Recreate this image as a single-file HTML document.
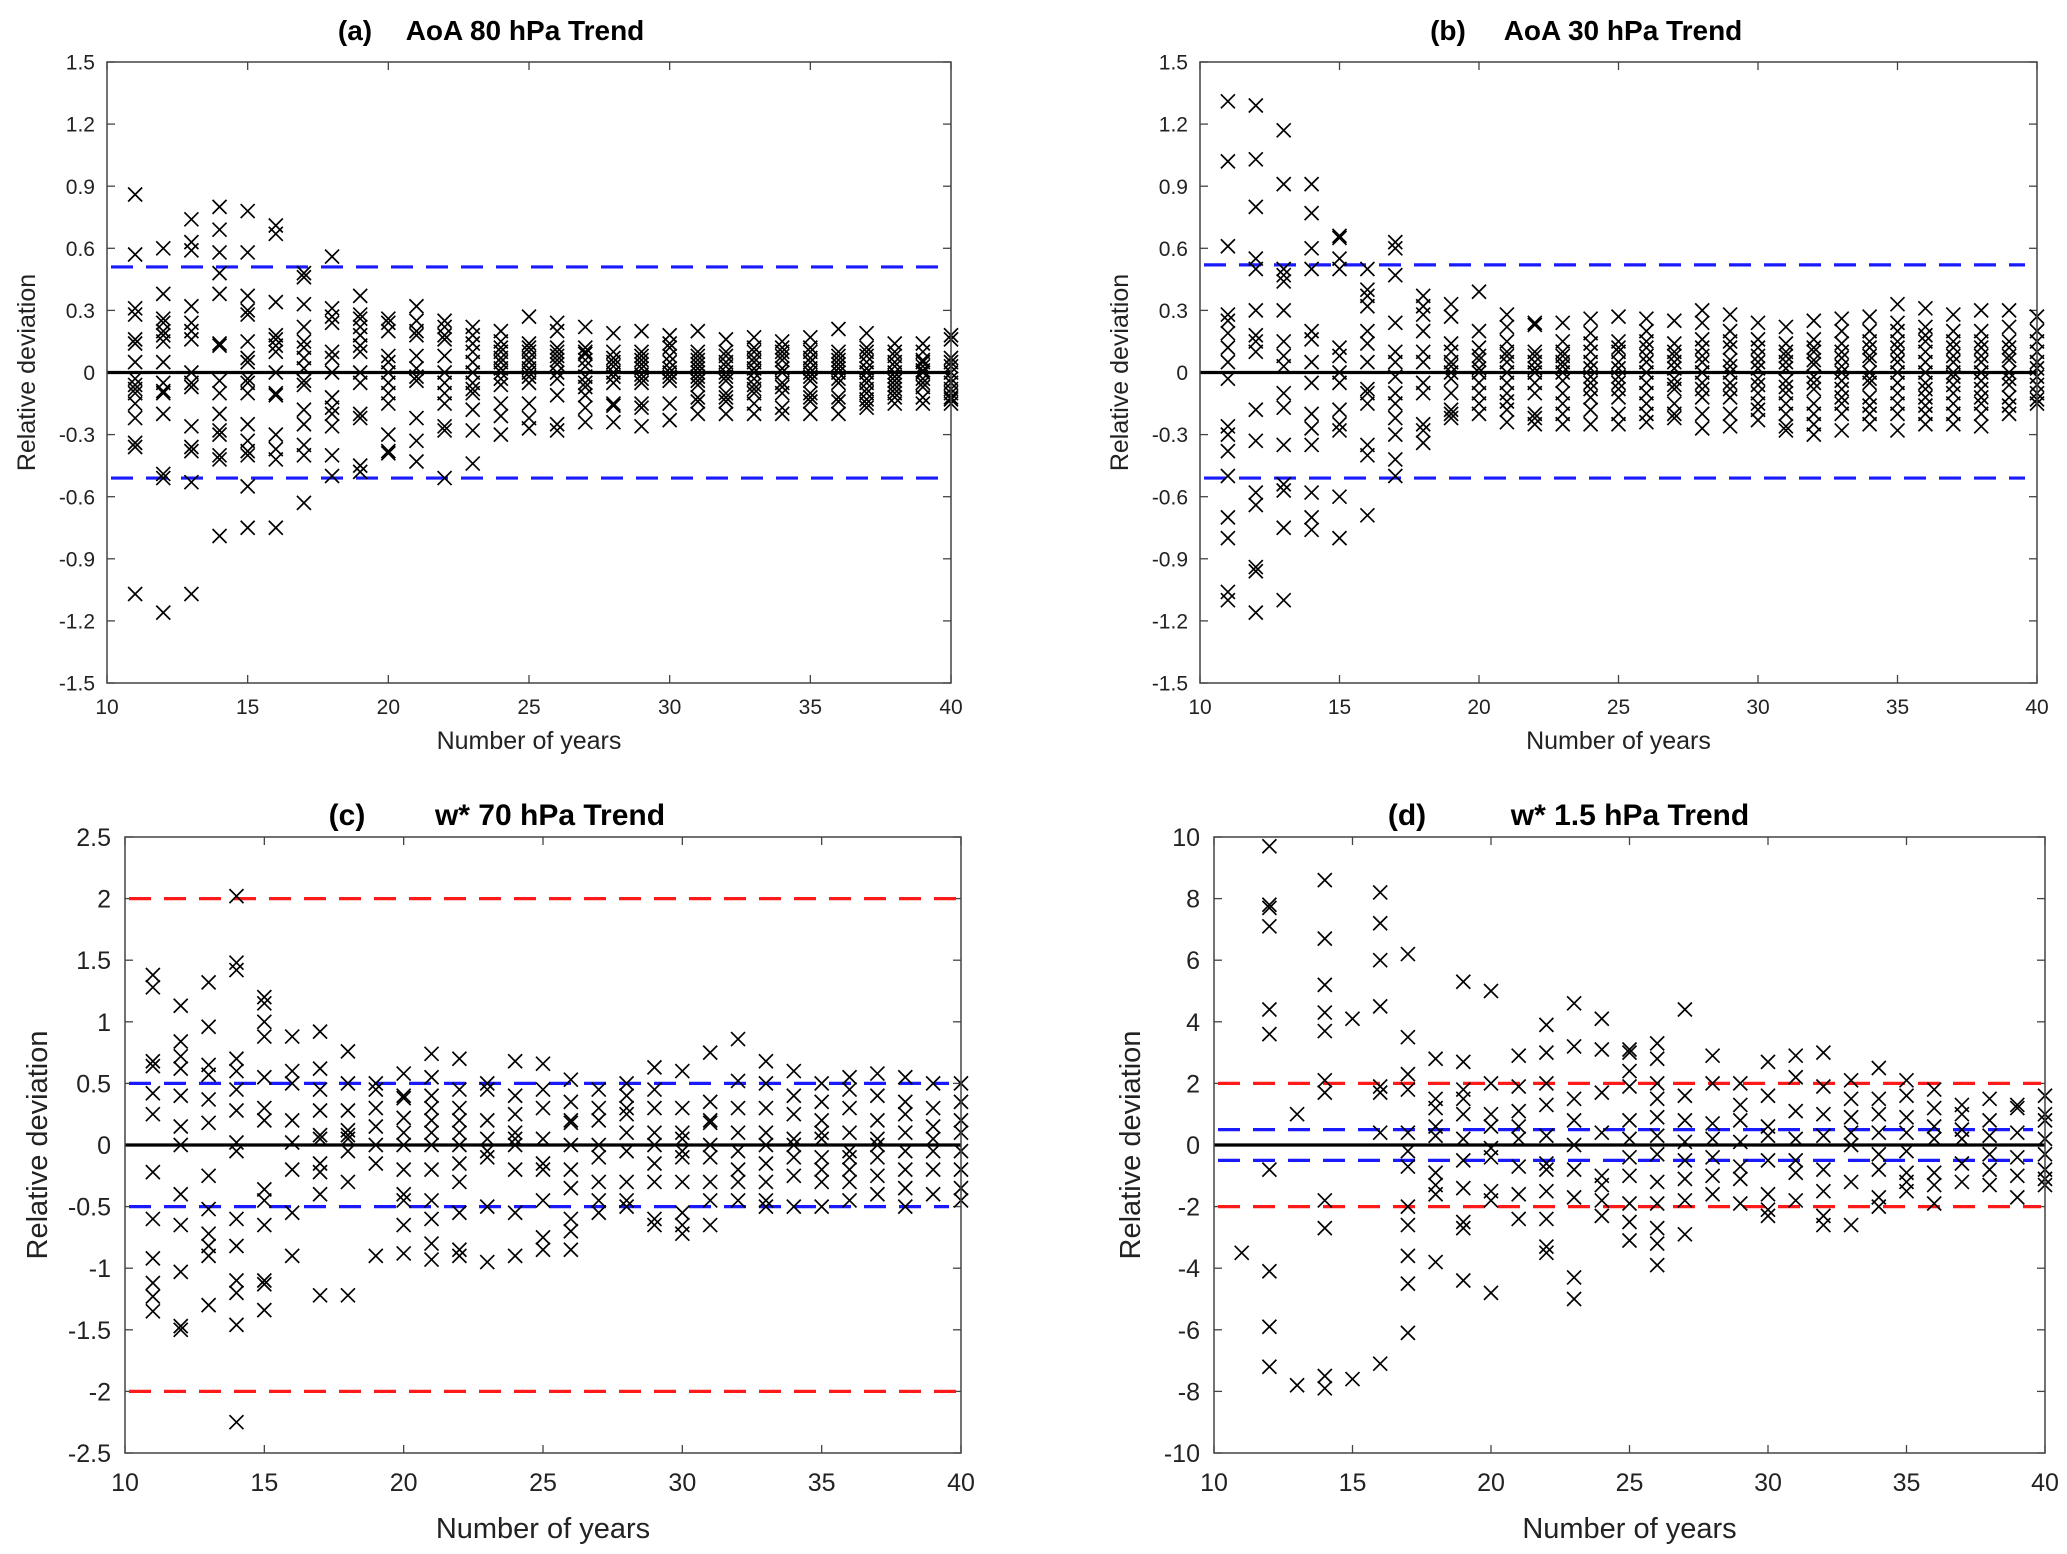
<!DOCTYPE html>
<html><head><meta charset="utf-8">
<style>
html,body{margin:0;padding:0;background:#fff;}
svg{display:block;font-family:"Liberation Sans",sans-serif;}
</style></head>
<body>
<svg id="fig" width="2067" height="1554" viewBox="0 0 2067 1554" xmlns="http://www.w3.org/2000/svg"></svg>
<script>
const years = [11,12,13,14,15,16,17,18,19,20,21,22,23,24,25,26,27,28,29,30,31,32,33,34,35,36,37,38,39,40];
const xTicks = [10,15,20,25,30,35,40];
const yTicksAB = [1.5,1.2,0.9,0.6,0.3,0,-0.3,-0.6,-0.9,-1.2,-1.5];
const yTickLabelsAB = ["1.5","1.2","0.9","0.6","0.3","0","-0.3","-0.6","-0.9","-1.2","-1.5"];
const yTicksC = [2.5,2,1.5,1,0.5,0,-0.5,-1,-1.5,-2,-2.5];
const yTickLabelsC = ["2.5","2","1.5","1","0.5","0","-0.5","-1","-1.5","-2","-2.5"];
const yTicksD = [10,8,6,4,2,0,-2,-4,-6,-8,-10];
const yTickLabelsD = ["10","8","6","4","2","0","-2","-4","-6","-8","-10"];
const blueA = [0.51,-0.51];
const blueB = [0.52,-0.51];
const blueC = [0.5,-0.5];
const redC = [2,-2];
const blueD = [0.5,-0.5];
const redD = [2,-2];

const dataA = [
[.86,.57,.31,.28,.16,.14,.05,-.03,-.06,-.08,-.1,-.15,-.22,-.34,-.36,-1.07],
[.6,.38,.26,.24,.2,.18,.15,.05,-.05,-.09,-.1,-.2,-.49,-.51,-1.16],
[.74,.63,.59,.32,.24,.2,.16,0,-.05,-.07,-.26,-.36,-.38,-.53,-1.07],
[.8,.69,.58,.48,.38,.14,.13,-.04,-.1,-.2,-.28,-.3,-.4,-.42,-.79],
[.78,.58,.37,.3,.28,.15,.07,.05,-.03,-.05,-.1,-.25,-.33,-.38,-.4,-.55,-.75],
[.71,.67,.34,.18,.16,.13,.1,0,-.1,-.11,-.3,-.37,-.42,-.75],
[.48,.46,.33,.22,.15,.12,.07,.02,-.04,-.06,-.18,-.25,-.35,-.4,-.63],
[.56,.31,.27,.24,.1,.07,0,-.12,-.17,-.2,-.26,-.4,-.5],
[.37,.28,.26,.22,.18,.13,.1,0,-.05,-.2,-.22,-.45,-.48],
[.26,.24,.2,.08,.05,0,-.05,-.1,-.15,-.3,-.38,-.39],
[.32,.25,.2,.18,.08,.02,-.02,-.04,-.22,-.33,-.43],
[.25,.22,.18,.16,.08,0,-.05,-.1,-.15,-.26,-.28,-.51],
[.22,.18,.14,.1,.05,0,-.05,-.08,-.1,-.18,-.28,-.44],
[.2,.15,.12,.1,.07,.05,.02,0,-.03,-.06,-.15,-.21,-.3],
[.27,.14,.12,.1,.07,.05,.02,0,-.02,-.05,-.15,-.22,-.27],
[.24,.2,.12,.1,.08,.06,.04,0,-.03,-.11,-.25,-.28],
[.22,.12,.1,.09,.06,.03,-.02,-.05,-.07,-.11,-.17,-.24],
[.19,.1,.07,.05,.03,0,-.02,-.05,-.15,-.16,-.24],
[.2,.1,.08,.06,.04,.02,-.01,-.03,-.05,-.15,-.17,-.26],
[.18,.14,.12,.08,.05,.02,0,-.02,-.04,-.15,-.23],
[.2,.1,.08,.06,.04,.02,0,-.02,-.04,-.06,-.12,-.14,-.2],
[.16,.1,.08,.05,.03,0,-.02,-.04,-.1,-.12,-.14,-.2],
[.17,.12,.1,.07,.05,.02,0,-.03,-.06,-.08,-.1,-.15,-.2],
[.15,.12,.1,.08,.06,.02,0,-.05,-.07,-.1,-.17,-.2],
[.17,.12,.1,.07,.05,.02,0,-.02,-.04,-.1,-.12,-.14,-.2],
[.21,.1,.08,.06,.04,.02,0,-.03,-.05,-.12,-.14,-.2],
[.19,.12,.1,.08,.05,.02,0,-.03,-.05,-.08,-.1,-.13,-.15,-.17],
[.14,.1,.08,.05,.03,0,-.02,-.04,-.06,-.08,-.1,-.12,-.15],
[.14,.1,.06,.05,.03,.01,0,-.03,-.05,-.07,-.12,-.15],
[.18,.16,.07,.05,.03,0,-.03,-.05,-.08,-.1,-.12,-.13,-.15]];

const dataB = [
[1.31,1.02,.61,.28,.25,.19,.12,.05,-.03,-.26,-.3,-.38,-.5,-.7,-.8,-1.06,-1.1],
[1.29,1.03,.8,.55,.5,.3,.18,.15,.1,-.18,-.33,-.58,-.64,-.94,-.96,-1.16],
[1.17,.91,.5,.47,.44,.3,.15,.08,.03,-.1,-.17,-.35,-.54,-.57,-.75,-1.1],
[.91,.77,.6,.5,.2,.16,.05,-.05,-.2,-.27,-.35,-.58,-.7,-.76],
[.66,.65,.55,.5,.12,.08,0,-.05,-.18,-.25,-.28,-.6,-.8],
[.5,.4,.37,.32,.2,.14,.05,-.08,-.1,-.15,-.35,-.4,-.69],
[.63,.6,.47,.24,.1,.05,-.02,-.1,-.15,-.22,-.3,-.42,-.5],
[.37,.32,.28,.2,.1,.05,-.05,-.1,-.25,-.28,-.34],
[.33,.27,.14,.1,.05,.03,0,-.03,-.1,-.18,-.2,-.22],
[.39,.2,.12,.08,.06,.02,0,-.05,-.1,-.15,-.2],
[.28,.22,.15,.1,.08,.05,0,-.05,-.1,-.14,-.18,-.24],
[.24,.23,.1,.08,.05,.02,0,-.05,-.1,-.2,-.22,-.25],
[.24,.15,.1,.08,.05,.03,0,-.04,-.1,-.15,-.2,-.25],
[.26,.19,.14,.1,.05,.02,-.02,-.05,-.08,-.12,-.18,-.25],
[.27,.15,.12,.1,.05,.02,-.02,-.05,-.08,-.12,-.2,-.25],
[.26,.2,.15,.12,.08,.05,0,-.05,-.1,-.15,-.2,-.24],
[.25,.14,.1,.08,.05,.02,-.03,-.06,-.08,-.15,-.2,-.22],
[.3,.24,.16,.12,.08,.05,0,-.05,-.08,-.12,-.2,-.27],
[.28,.2,.15,.12,.06,.03,0,-.05,-.08,-.12,-.2,-.26],
[.24,.16,.12,.08,.05,.02,-.03,-.06,-.1,-.15,-.18,-.23],
[.22,.14,.1,.08,.05,.02,-.04,-.07,-.1,-.15,-.2,-.26,-.28],
[.25,.16,.12,.1,.06,.04,-.02,-.05,-.08,-.15,-.2,-.25,-.3],
[.26,.2,.14,.1,.07,.03,0,-.04,-.08,-.12,-.15,-.2,-.28],
[.27,.2,.15,.12,.08,.06,0,-.03,-.05,-.12,-.16,-.2,-.25],
[.33,.24,.2,.15,.12,.08,.05,0,-.05,-.1,-.15,-.2,-.28],
[.31,.22,.18,.15,.1,.05,0,-.05,-.08,-.12,-.16,-.2,-.25],
[.28,.2,.15,.12,.08,.05,0,-.02,-.06,-.1,-.15,-.2,-.25],
[.3,.2,.15,.12,.08,.05,0,-.04,-.08,-.12,-.15,-.2,-.26],
[.3,.22,.15,.12,.08,.06,0,-.03,-.06,-.12,-.16,-.2],
[.27,.2,.15,.1,.05,.02,-.02,-.06,-.1,-.13,-.15]];

const dataC = [
[1.38,1.28,.68,.64,.42,.25,-.22,-.6,-.92,-1.12,-1.23,-1.35],
[1.13,.84,.72,.62,.4,.15,0,-.4,-.65,-1.03,-1.47,-1.5],
[1.32,.96,.65,.57,.37,.18,-.25,-.52,-.72,-.82,-.9,-1.3],
[2.02,1.48,1.42,.7,.6,.45,.28,.02,-.05,-.6,-.82,-1.1,-1.2,-1.46,-2.25],
[1.2,1.15,1.0,.88,.55,.3,.2,-.36,-.45,-.65,-1.1,-1.13,-1.34],
[.88,.6,.5,.2,.02,-.2,-.55,-.9],
[.92,.62,.45,.28,.08,.05,-.15,-.22,-.4,-1.22],
[.76,.5,.28,.12,.08,.05,-.05,-.3,-1.22],
[.5,.45,.3,.15,0,-.15,-.9],
[.58,.4,.38,.22,.1,0,-.2,-.4,-.45,-.65,-.88],
[.74,.55,.4,.3,.2,.1,0,-.2,-.45,-.6,-.8,-.93],
[.7,.45,.3,.2,.1,0,-.15,-.3,-.55,-.85,-.9],
[.5,.45,.2,.05,-.05,-.1,-.5,-.95],
[.68,.4,.25,.1,.05,0,-.2,-.55,-.9],
[.66,.45,.3,.05,-.15,-.2,-.45,-.75,-.85],
[.53,.35,.2,.18,0,-.2,-.35,-.6,-.7,-.85],
[.45,.3,.2,0,-.1,-.3,-.45,-.55],
[.5,.4,.3,.25,.1,-.05,-.3,-.45,-.5],
[.63,.45,.3,.1,0,-.15,-.3,-.6,-.65],
[.6,.3,.1,.05,-.05,-.1,-.3,-.55,-.65,-.72],
[.75,.35,.2,.18,0,-.1,-.3,-.45,-.65],
[.86,.52,.3,.1,-.05,-.2,-.3,-.45],
[.68,.5,.3,.1,0,-.15,-.3,-.45,-.5],
[.6,.4,.25,.05,0,-.1,-.25,-.5],
[.5,.35,.2,.1,.05,-.1,-.2,-.3,-.5],
[.55,.45,.3,.1,-.05,-.1,-.2,-.3,-.45],
[.58,.4,.2,.05,0,-.1,-.25,-.4],
[.55,.35,.25,.1,-.05,-.2,-.35,-.5],
[.5,.3,.15,.05,-.05,-.2,-.4],
[.5,.35,.2,.1,-.05,-.2,-.35,-.45]];

const dataD = [
[-3.5],
[9.7,7.8,7.7,7.1,4.4,3.6,-.8,-4.1,-5.9,-7.2],
[1.0,-7.8],
[8.6,6.7,5.2,4.3,3.7,2.1,1.7,-1.8,-2.7,-7.5,-7.9],
[4.1,-7.6],
[8.2,7.2,6.0,4.5,1.9,1.7,.4,-7.1],
[6.2,3.5,2.3,1.8,.4,-.2,-.7,-2.0,-2.6,-3.6,-4.5,-6.1],
[2.8,1.5,1.2,.6,.3,-.9,-1.3,-1.6,-3.8],
[5.3,2.7,1.8,1.5,1.0,.2,-.5,-1.4,-2.5,-2.7,-4.4],
[5.0,2.0,1.0,.6,-.1,-.4,-1.5,-1.8,-4.8],
[2.9,1.9,1.1,.6,.2,-.7,-1.6,-2.4],
[3.9,3.0,2.0,1.3,.3,-.6,-.8,-1.5,-2.4,-3.3,-3.5],
[4.6,3.2,1.5,.8,0,-.8,-1.7,-4.3,-5.0],
[4.1,3.1,1.7,.4,-1.0,-1.3,-1.8,-2.3],
[3.1,3.0,2.4,1.9,.8,.2,-.4,-1.0,-1.9,-2.5,-3.1],
[3.3,2.8,2.0,1.5,.9,.3,-.3,-1.2,-1.9,-2.7,-3.2,-3.9],
[4.4,1.6,.8,.1,-.5,-1.1,-1.8,-2.9],
[2.9,2.0,.7,.2,-.4,-1.0,-1.6],
[2.0,1.3,.8,.1,-.7,-1.1,-1.9],
[2.7,1.6,.6,.3,-.5,-1.6,-2.1,-2.3],
[2.9,2.2,1.1,.2,-.5,-.9,-1.8],
[3.0,1.9,1.0,.3,-.8,-1.5,-2.3,-2.6],
[2.1,1.5,.9,.4,0,-1.2,-2.6],
[2.5,1.5,1.0,.4,-.3,-.8,-1.7,-2.0],
[2.1,1.6,.9,.4,-.2,-.9,-1.2,-1.5],
[1.8,1.2,.6,.2,-.9,-1.3,-1.9],
[1.3,1.0,.5,.2,-.6,-1.2],
[1.5,.8,.3,-.3,-.8,-1.3],
[1.3,1.2,.4,-.4,-1.0,-1.7],
[1.6,1.0,.8,.2,-.3,-.8,-1.1,-1.3]];

const NS = "http://www.w3.org/2000/svg";
const svg = document.getElementById('fig');
function mk(tag, attrs, parent){
  const e = document.createElementNS(NS, tag);
  for (const k in attrs) e.setAttribute(k, attrs[k]);
  (parent||svg).appendChild(e);
  return e;
}

function panel(cfg){
  const g = mk('g', {});
  
  
  const L=cfg.L,R=cfg.R,T=cfg.T,B=cfg.B;
  const xs = v => L + (v-10)/30*(R-L);
  const ys = v => T + (cfg.ymax - v)/(cfg.ymax-cfg.ymin)*(B-T);
  xTicks.forEach(t=>{
    const x = xs(t);
    const tk = mk('line',{x1:x,x2:x,y1:B,y2:B-8,stroke:'#444','stroke-width':1.3},g);
    
    
    mk('line',{x1:x,x2:x,y1:T,y2:T+8,stroke:'#444','stroke-width':1.3},g);
    const tl = mk('text',{x:x,y:B+cfg.xtOff,'font-size':cfg.tf,'text-anchor':'middle',fill:'#222'},g);
    tl.textContent = t;
    
    
  });
  cfg.yt.forEach((t,i)=>{
    const y = ys(t);
    const tk = mk('line',{x1:L,x2:L+8,y1:y,y2:y,stroke:'#444','stroke-width':1.3},g);
    
    
    mk('line',{x1:R,x2:R-8,y1:y,y2:y,stroke:'#444','stroke-width':1.3},g);
    const tl = mk('text',{x:L-cfg.ytGap,y:y+cfg.tf*0.36,'font-size':cfg.tf,'text-anchor':'end',fill:'#222'},g);
    tl.textContent = cfg.ytl[i];
    
    
  });
  (cfg.red||[]).forEach(v=>{
    const l = mk('line',{x1:L+4,x2:R-4,y1:ys(v),y2:ys(v),stroke:'#ff1a1a','stroke-width':3.2,'stroke-dasharray':'22,13'},g);
    
    
  });
  cfg.blue.forEach(v=>{
    const l = mk('line',{x1:L+4,x2:R-12,y1:ys(v),y2:ys(v),stroke:'#1a1aff','stroke-width':3.2,'stroke-dasharray':'22,13'},g);
    
    
  });
  const z = mk('line',{x1:L,x2:R,y1:ys(0),y2:ys(0),stroke:'#000','stroke-width':3.2},g);
  
  
  const h = cfg.ms;
  years.forEach((yr,i)=>{
    cfg.data[i].forEach(v=>{
      const cx = xs(yr), cy = ys(v);
      const p = mk('path',{d:`M${cx-h},${cy-h}L${cx+h},${cy+h}M${cx-h},${cy+h}L${cx+h},${cy-h}`,stroke:'#000','stroke-width':1.7,fill:'none'},g);
      
      
    });
  });
  const fr = mk('rect',{x:L,y:T,width:R-L,height:B-T,fill:'none',stroke:'#444','stroke-width':1.5},g);
  
  
  const t1 = mk('text',{x:cfg.tlx,y:cfg.ty,'font-size':cfg.ttf,'font-weight':'bold','text-anchor':'middle'},g);
  t1.textContent = cfg.tag;
  
  
  const t2 = mk('text',{x:cfg.ttx,y:cfg.ty,'font-size':cfg.ttf,'font-weight':'bold','text-anchor':'middle'},g);
  t2.textContent = cfg.title;
  
  
  const xl = mk('text',{x:(L+R)/2,y:cfg.xly,'font-size':cfg.lf,'text-anchor':'middle',fill:'#222'},g);
  xl.textContent = 'Number of years';
  
  
  const yc = (T+B)/2;
  const yl = mk('text',{x:cfg.ylx,y:yc,'font-size':cfg.ylf||cfg.lf,'text-anchor':'middle',fill:'#222',transform:`rotate(-90 ${cfg.ylx} ${yc})`},g);
  yl.textContent = 'Relative deviation';
  
  
}

panel({name:'panel-a',L:107,R:951,T:62,B:683,ymin:-1.5,ymax:1.5,yt:yTicksAB,ytl:yTickLabelsAB,blue:blueA,data:dataA,
  tf:21,xtOff:31,ytGap:12,ms:7,tag:'(a)',title:'AoA 80 hPa Trend',tlx:355,ttx:525,ty:40,ttf:28,xly:749,lf:25,ylf:25,ylx:35});
panel({name:'panel-b',L:1200,R:2037,T:62,B:683,ymin:-1.5,ymax:1.5,yt:yTicksAB,ytl:yTickLabelsAB,blue:blueB,data:dataB,
  tf:21,xtOff:31,ytGap:12,ms:7,tag:'(b)',title:'AoA 30 hPa Trend',tlx:1448,ttx:1623,ty:40,ttf:28,xly:749,lf:25,ylf:25,ylx:1128});
panel({name:'panel-c',L:125,R:961,T:837,B:1453,ymin:-2.5,ymax:2.5,yt:yTicksC,ytl:yTickLabelsC,blue:blueC,red:redC,data:dataC,
  tf:25,xtOff:38,ytGap:14,ms:7,tag:'(c)',title:'w* 70 hPa Trend',tlx:347,ttx:550,ty:825,ttf:30,xly:1538,lf:29,ylx:47});
panel({name:'panel-d',L:1214,R:2045,T:837,B:1453,ymin:-10,ymax:10,yt:yTicksD,ytl:yTickLabelsD,blue:blueD,red:redD,data:dataD,
  tf:25,xtOff:38,ytGap:14,ms:7,tag:'(d)',title:'w* 1.5 hPa Trend',tlx:1407,ttx:1630,ty:825,ttf:30,xly:1538,lf:29,ylx:1140});
</script>
</body></html>
